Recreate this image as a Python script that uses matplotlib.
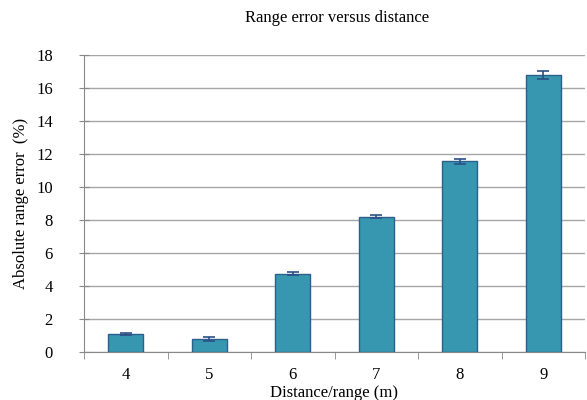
"""Bar chart of absolute range error against target distance."""

import matplotlib.pyplot as plt
import numpy as np

distances = ["4", "5", "6", "7", "8", "9"]
range_error = [1.1, 0.8, 4.75, 8.2, 11.55, 16.8]
error_bars = [0.08, 0.12, 0.08, 0.1, 0.15, 0.25]

plt.rcParams["font.family"] = ["Liberation Serif", "DejaVu Serif"]

fig = plt.figure(figsize=(5.87, 4.0), dpi=100)
ax = fig.add_axes([84 / 587, 48 / 400, 501 / 587, 297 / 400])

x = np.arange(len(distances))
ax.bar(x, range_error, width=0.42, color="#3897b0", edgecolor="#2d5f8c", linewidth=1.0,
       yerr=error_bars, error_kw={"ecolor": "#2d4f86", "elinewidth": 1.2, "capsize": 4, "capthick": 1.2},
       zorder=3)

ax.set_xlim(-0.5, len(distances) - 0.5)
ax.set_ylim(0, 18)
ax.set_yticks(np.arange(0, 19, 2))
ax.set_xticks(x)
ax.set_xticklabels(distances)
ax.set_xticks(np.arange(-0.5, len(distances), 1.0), minor=True)
ax.tick_params(axis="x", which="major", length=0, pad=11, labelsize=12)
ax.tick_params(axis="x", which="minor", length=5, color="#888888")
ax.tick_params(axis="y", direction="inout", length=7, color="#888888", labelsize=12, pad=19)

ax.yaxis.grid(True, color="#a6a6a6", linewidth=1.0, zorder=0)
for side in ("top", "right"):
    ax.spines[side].set_visible(False)
ax.spines["left"].set_color("#888888")
ax.spines["bottom"].set_color("#888888")

ax.set_xlabel("Distance/range (m)", fontsize=12, labelpad=1)
ax.set_ylabel("Absolute range error  (%)", fontsize=12, labelpad=5)
fig.text(0.575, 0.955, "Range error versus distance", ha="center", va="center", fontsize=12)

fig.savefig("out.png", dpi=100)
